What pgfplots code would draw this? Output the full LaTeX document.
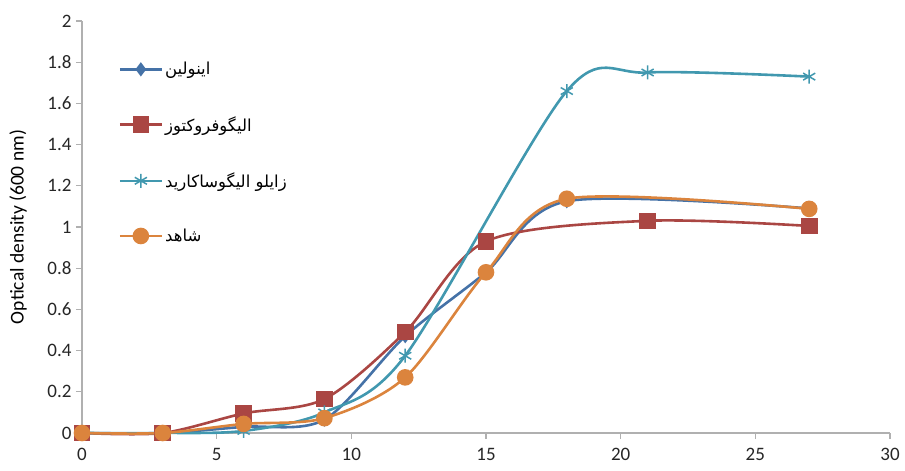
\documentclass[border=0pt]{standalone}
\usepackage{pgfplots}
\pgfplotsset{compat=1.18}
\usepackage{fontspec}
\setmainfont{Carlito}
\newfontfamily\arabicfont[Script=Arabic]{DejaVu Sans}
\TeXXeTstate=1
\definecolor{cblue}{HTML}{4572A7}
\definecolor{cred}{HTML}{AA4643}
\definecolor{cteal}{HTML}{4198AF}
\definecolor{corange}{HTML}{DB843D}
\definecolor{axgray}{HTML}{B0B0B0}
\begin{document}
\begin{tikzpicture}
\begin{axis}[
  scale only axis, width=808pt, height=412pt,
  xmin=0, xmax=30, ymin=0, ymax=2,
  xtick={0,5,...,30}, ytick={0,0.2,...,2.01},
  axis lines*=left,
  axis line style={axgray, line width=1.2pt},
  tick style={axgray, line width=1.2pt},
  tick align=outside, major tick length=6pt,
  clip=false,
  /pgf/number format/assume math mode=true,
  /pgf/number format/fixed,
  tick label style={font=\fontsize{19}{22}\selectfont, text=black!85},
  yticklabel style={xshift=-1pt},
  xticklabel style={yshift=-6pt},
  ylabel={Optical density (600 nm)},
  ylabel style={font=\fontsize{19.5}{22}\selectfont, at={(axis description cs:-0.079,0.5)}, anchor=center},
  legend style={at={(0.045,0.905)}, anchor=north west, draw=none, fill=none,
    font=\arabicfont\fontsize{16.5}{19}\selectfont, row sep=36pt, inner sep=0pt},
  legend cell align=left,
  legend image code/.code={\draw[mark repeat=2,mark phase=2] plot coordinates {(0pt,0pt) (21pt,0pt) (42pt,0pt)};},
  every axis plot/.append style={line width=2.6pt, smooth, tension=0.5},
]
\addplot[cblue, mark=diamond*, mark size=5pt, mark options={solid}] coordinates {
(0,0) (3,0) (6,0.03) (9,0.065) (12,0.47) (15,0.78) (18,1.125) (27,1.09)};
\addlegendentry{\beginR اینولین\endR}
\addplot[cred, mark=square*, mark size=7pt] coordinates {
(0,0) (3,0) (6,0.095) (9,0.165) (12,0.49) (15,0.93) (21,1.03) (27,1.005)};
\addlegendentry{\beginR الیگوفروکتوز\endR}
\addplot[cteal, mark=asterisk, mark size=7pt, mark options={line width=1.5pt}] coordinates {
(0,0) (3,0) (6,0.01) (9,0.1) (12,0.375) (18,1.66) (21,1.75) (27,1.73)};
\addlegendentry{\beginR زایلو الیگوساکارید\endR}
\addplot[corange, mark=*, mark size=7pt] coordinates {
(0,0) (3,0) (6,0.044) (9,0.072) (12,0.27) (15,0.78) (18,1.137) (27,1.088)};
\addlegendentry{\beginR شاهد\endR}
\end{axis}
\pgfresetboundingbox
\path[use as bounding box] ([shift={(-82pt,-38pt)}]current axis.south west) rectangle ([shift={(15pt,21pt)}]current axis.north east);
\end{tikzpicture}
\end{document}
